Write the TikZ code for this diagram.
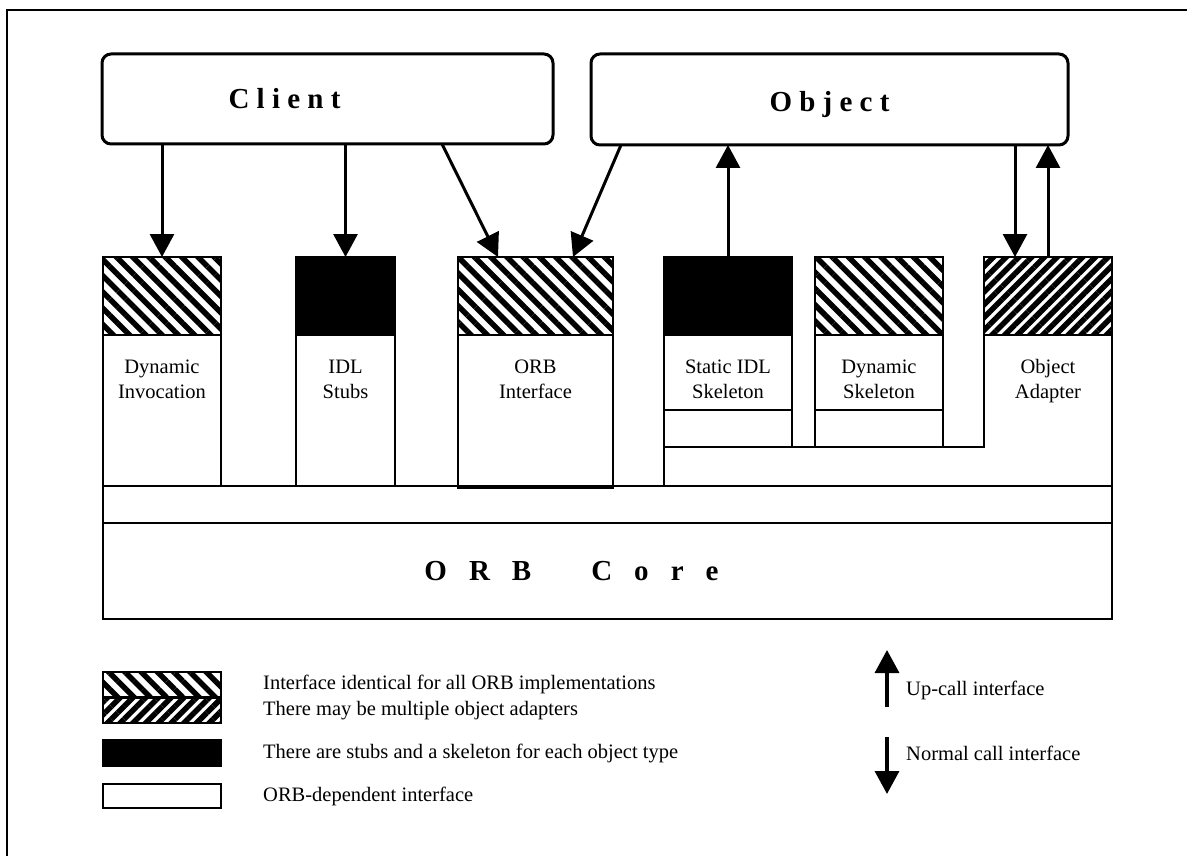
\documentclass[tikz,border=0pt]{standalone}
\usepackage{fontspec}
\setmainfont{Liberation Serif}
\usetikzlibrary{arrows.meta, patterns.meta, positioning}
\tikzset{
    callarrow/.style={line width=3pt, -{Triangle[width=24pt,length=23pt]}},
    blockbox/.style={draw, line width=2pt, inner sep=0pt, outer sep=0pt, anchor=north west},
    backhatch/.style={blockbox, pattern={Lines[angle=-45,distance=11.5pt,line width=5.5pt]}},
    fwdhatch/.style={blockbox, pattern={Lines[angle=45,distance=9pt,line width=5.5pt]}},
    solidtop/.style={blockbox, fill=black},
    party/.style={draw, line width=3pt, rounded corners=9pt, inner sep=0pt, outer sep=0pt},
    bigtext/.style={inner sep=0pt, font=\fontsize{29}{34}\selectfont\bfseries},
    blocktext/.style={align=center, inner sep=0pt, anchor=north, font=\fontsize{20.5}{25}\selectfont},
    legendtext/.style={anchor=west, inner sep=0pt, font=\fontsize{20.5}{25}\selectfont},
}
\newcommand{\tallstrut}{\rule{0pt}{15pt}}
\begin{document}
\begin{tikzpicture}[x=1pt, y=-1pt]
\useasboundingbox (0,0) rectangle (1187,856);
\draw[line width=2pt] (7,856) |- (1187,10);

% client and object
\node[party, minimum width=451pt, minimum height=90pt] (client) at (327.5,99) {};
\node[party, minimum width=477pt, minimum height=91pt] (object) at (829.5,99.5) {};
\node[bigtext] (clienttext) at ([xshift=-43pt]client.center) {C l i e n t};
\node[bigtext] (objecttext) at ([yshift=-5pt]object.center) {O b j e c t};

% top parts of the blocks
\node[backhatch, minimum width=118pt, minimum height=78pt] (dinvtop) at (103,257) {};
\node[solidtop, minimum width=99pt, minimum height=78pt] (stubtop) at (296,257) {};
\node[backhatch, minimum width=155pt, minimum height=78pt] (orbtop) at (458,257) {};
\node[solidtop, minimum width=128pt, minimum height=78pt] (stattop) at (664,257) {};
\node[backhatch, minimum width=128pt, minimum height=78pt] (dsktop) at (815,257) {};
\node[fwdhatch, minimum width=128pt, minimum height=78pt] (oatop) at (984,257) {};

% lower parts
\node[blockbox, minimum width=118pt, minimum height=151pt] (dinv) at (dinvtop.south west) {};
\node[blockbox, minimum width=99pt, minimum height=151pt] (stub) at (stubtop.south west) {};
\node[blockbox, minimum width=155pt, minimum height=153pt] (orbif) at (orbtop.south west) {};
\node[blockbox, minimum width=128pt, minimum height=75pt] (stat) at (stattop.south west) {};
\node[blockbox, minimum width=128pt, minimum height=37pt] (statsmall) at (stat.south west) {};
\node[blockbox, minimum width=128pt, minimum height=75pt] (dsk) at (dsktop.south west) {};
\node[blockbox, minimum width=128pt, minimum height=37pt] (dsksmall) at (dsk.south west) {};

% band and core
\node[blockbox, minimum width=1009pt, minimum height=37pt] (band) at (103,486) {};
\node[blockbox, minimum width=1009pt, minimum height=96pt] (core) at (band.south west) {};
\node[bigtext] (coretext) at ([xshift=-36pt]core.center)
    {O\hspace{22pt}R\hspace{22pt}B\hspace{60pt}C\hspace{22pt}o\hspace{22pt}r\hspace{22pt}e};

\draw[line width=2pt] (oatop.south west) |- (statsmall.south west) -- (statsmall.south west |- band.north);
\draw[line width=2pt] (oatop.south east) -- (oatop.south east |- band.north);

% block texts
\node[blocktext, below=23pt of dinvtop.south] (dinvtext) {\tallstrut Dynamic\\Invocation};
\node[blocktext, below=23pt of stubtop.south] (stubtext) {\tallstrut IDL\\Stubs};
\node[blocktext, below=23pt of orbtop.south] (orbtext) {\tallstrut ORB\\Interface};
\node[blocktext, below=23pt of stattop.south] (stattext) {\tallstrut Static IDL\\Skeleton};
\node[blocktext, below=23pt of dsktop.south] (dsktext) {\tallstrut Dynamic\\Skeleton};
\node[blocktext, below=23pt of oatop.south] (oatext) {\tallstrut Object\\Adapter};

% calls
\draw[callarrow] (client.south -| dinvtop.north) -- (dinvtop.north);
\draw[callarrow] (client.south -| stubtop.north) -- (stubtop.north);
\draw[callarrow] ([xshift=-111pt]client.south east) -- ([xshift=40pt]orbtop.north west);
\draw[callarrow] ([xshift=30pt]object.south west) -- ([xshift=-40pt]orbtop.north east);
\draw[callarrow] (stattop.north) -- (stattop.north |- object.south);
\draw[callarrow] ([xshift=-33pt]oatop.north |- object.south) -- ([xshift=-33pt]oatop.north);
\draw[callarrow] (oatop.north) -- (oatop.north |- object.south);

% legend
\node[backhatch, minimum width=118pt, minimum height=25pt] (key1) at (103,672) {};
\node[fwdhatch, minimum width=118pt, minimum height=25pt] (key2) at (103,698) {};
\node[solidtop, minimum width=118pt, minimum height=26pt] (key3) at (103,740) {};
\node[blockbox, minimum width=118pt, minimum height=24pt] (key4) at (103,784) {};
\node[legendtext, right=42pt of key1] (keytext1) {Interface identical for all ORB implementations};
\node[legendtext, right=42pt of key2] (keytext2) {There may be multiple object adapters};
\node[legendtext, right=42pt of key3] (keytext3) {There are stubs and a skeleton for each object type};
\node[legendtext, right=42pt of key4] (keytext4) {ORB-dependent interface};

\coordinate (uptail) at (887,707);
\coordinate (uphead) at (887,650);
\coordinate (downtail) at (887,737);
\coordinate (downhead) at (887,794);
\draw[callarrow, line width=3.5pt] (uptail) -- (uphead);
\draw[callarrow, line width=3.5pt] (downtail) -- (downhead);
\node[legendtext] (uptext) at (906,690) {Up-call interface};
\node[legendtext] (downtext) at (906,753) {Normal call interface};
\end{tikzpicture}
\end{document}
